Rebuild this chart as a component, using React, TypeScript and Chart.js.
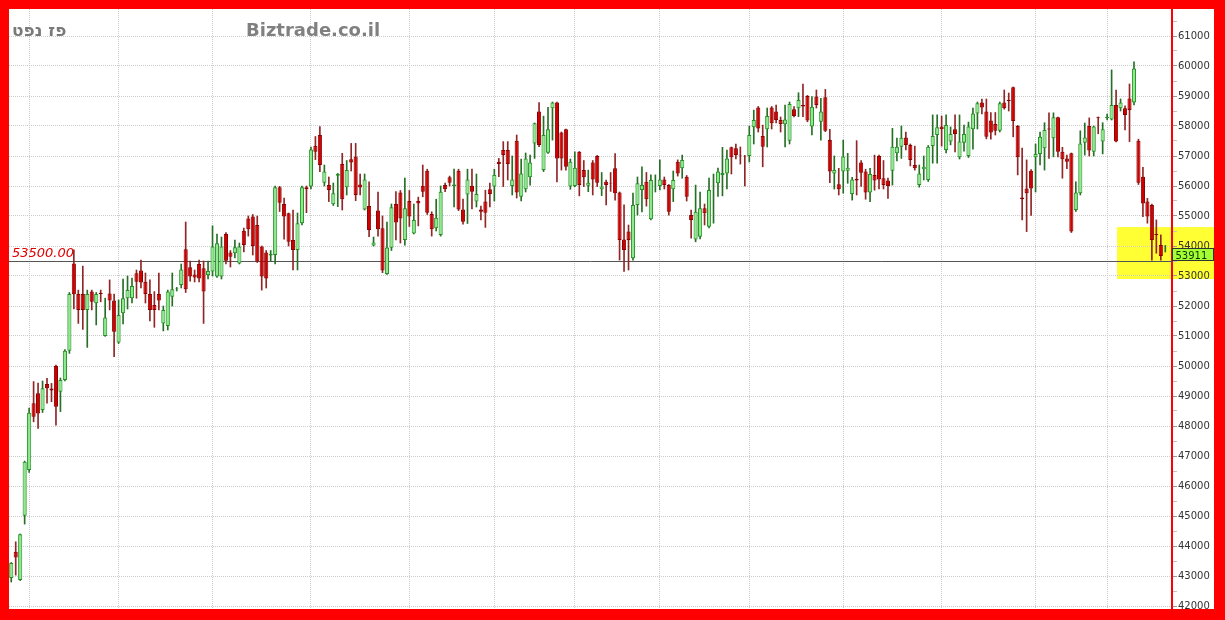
import React, { useEffect, useRef } from "react";
import { Chart, registerables } from "chart.js";

Chart.register(...registerables);

const opens = [
  42930, 43810, 42870, 45010, 46530, 48760, 49090, 48530, 49400, 49250,
  50000, 49140, 49530, 50510, 53420, 52400, 52400, 51870, 52480, 52090,
  52440, 51000, 52420, 52180, 50780, 51760, 52260, 52260, 53090, 53180,
  52810, 52400, 52030, 52400, 51420, 51330, 52310, 52560, 52700, 53890,
  53290, 53050, 53400, 53260, 53030, 53150, 52980, 52980, 54400, 53780,
  53760, 53420, 54510, 54920, 54980, 54700, 53980, 53780, 53680, 53700,
  55960, 55400, 55090, 54200, 53870, 54760, 55960, 55980, 57340, 57700,
  56110, 56030, 55390, 56340, 56730, 55960, 56890, 56980, 56050, 55220,
  55330, 54020, 55180, 54590, 53070, 53940, 55400, 55780, 54200, 55500,
  54420, 55500, 56010, 56510, 55070, 54590, 54370, 56030, 56290, 56000,
  56510, 55220, 55720, 56010, 55480, 55220, 55480, 55890, 55980, 56810,
  57200, 57200, 56000, 57510, 55640, 55890, 56290, 57420, 58480, 56530,
  57110, 58590, 58780, 57780, 57890, 55980, 56000, 57140, 56530, 56010,
  56780, 57000, 55890, 56140, 56100, 56590, 55780, 54220, 54480, 53590,
  55370, 55870, 56140, 54890, 55990, 56000, 56220, 56030, 55890, 56810,
  56590, 56310, 55030, 54220, 54310, 55260, 54640, 55990, 56090, 56370,
  56420, 57290, 57260, 57020, 57010, 57000, 57960, 58620, 57670, 57890,
  58620, 58480, 58200, 58060, 57510, 58560, 58590, 58700, 59000, 57980,
  58980, 58140, 58960, 57530, 56420, 56060, 56480, 56510, 55730, 56230,
  56780, 56480, 55780, 56370, 57000, 56260, 56180, 56510, 57090, 57310,
  57620, 57370, 56700, 56030, 56560, 56200, 57330, 57700, 57980, 57200,
  57480, 57890, 56960, 57440, 57000, 57890, 58420, 58780, 58480, 58180,
  58070, 57840, 58780, 58870, 59290, 58000, 55620, 55920, 56510, 56960,
  57070, 57260, 57920, 57590, 58290, 57140, 56920, 57090, 55200, 55760,
  57440, 58000, 57140, 58290, 57480, 58270, 58220, 58700, 58590, 58590,
  58920, 58780, 57510, 56310, 55480, 55370, 54400, 54030, 53900,
];

const highs = [
  43450, 44140, 44400, 46830, 48600, 49480, 49430, 49500, 49590, 49420,
  50030, 49600, 50550, 52450, 53870, 52530, 53330, 52530, 52530, 52450,
  52530, 52260, 52870, 52400, 52200, 52900, 53000, 52930, 53200, 53530,
  53100, 52870, 52480, 53100, 52000, 52530, 53100, 52620, 53400, 54800,
  53500, 53200, 53530, 53500, 53500, 54670, 54400, 54300, 54450, 53850,
  54200, 54100, 54600, 55000, 55050, 55000, 54000, 53850, 53850, 56000,
  55990, 55600, 55100, 55200, 55100, 56000, 56000, 57300, 57650, 57980,
  56700, 56300, 56100, 56420, 57090, 56850, 57420, 57420, 56400, 56400,
  56140, 54300, 55800, 55000, 54800, 55400, 55810, 55850, 56260, 55850,
  55400, 55630, 56700, 56560, 55140, 55560, 56000, 56100, 56330, 56560,
  56560, 55560, 56560, 56560, 56400, 55330, 55860, 56100, 56560, 56920,
  57480, 57480, 57000, 57700, 56900, 57100, 57030, 58100, 58780, 58330,
  58620, 58800, 58800, 57800, 57900, 56900, 57140, 57150, 56850, 56530,
  56850, 57020, 56450, 56200, 56450, 57080, 55800, 55370, 54700, 55760,
  56300, 56640, 56450, 56370, 56370, 56870, 56300, 56050, 56500, 56870,
  57030, 56350, 55200, 56030, 55800, 55400, 56260, 56400, 56600, 57290,
  57200, 57300, 57400, 57300, 57020, 58000, 58530, 58650, 58030, 58600,
  58650, 58700, 58300, 58700, 58800, 58650, 59110, 59400, 59020, 58980,
  59200, 58920, 59220, 57890, 57000, 56590, 57530, 57090, 56290, 57510,
  56850, 56560, 56590, 57030, 57030, 56850, 56260, 57920, 57600, 58000,
  57800, 57400, 57330, 56700, 57000, 57350, 58370, 58370, 58330, 58370,
  57970, 58370, 58370, 58030, 58130, 58600, 58800, 58900, 58900, 58450,
  58450, 58800, 59200, 59100, 59300, 58020, 57260, 56870, 56550, 57400,
  57800, 58110, 58440, 58440, 58300, 57290, 57030, 57100, 56140, 57840,
  58100, 58270, 58000, 58300, 58110, 58400, 59870, 59200, 58900, 58670,
  59400, 60140, 57560, 56620, 55590, 55400, 54870, 54370, 54020,
];

const lows = [
  42800, 43030, 42850, 44730, 46450, 48140, 47920, 48450, 48760, 48810,
  48030, 48480, 49500, 50420, 51900, 51420, 51220, 50620, 51870, 51370,
  52140, 50990, 51870, 50310, 50750, 51400, 51900, 52100, 52260, 52600,
  52100, 51500, 51290, 51870, 51170, 51200, 52000, 52500, 52600, 52450,
  52830, 52800, 52800, 51420, 52900, 53000, 52950, 52900, 53400, 53300,
  53600, 53400, 53800, 54330, 53700, 53450, 52530, 52600, 53500, 53400,
  55150, 54230, 54000, 53200, 53200, 54700, 55110, 55900, 56880, 56480,
  56000, 55480, 55350, 55310, 55200, 55700, 56500, 55510, 55700, 55200,
  54310, 54000, 54330, 53110, 53050, 53850, 54200, 54100, 54030, 54650,
  54400, 54670, 55640, 55050, 54330, 54500, 54330, 55810, 56000, 55300,
  55180, 54730, 54750, 55240, 55300, 54870, 54620, 55300, 55500, 56310,
  55980, 56200, 55700, 55600, 55500, 55800, 56030, 56920, 57310, 56480,
  57090, 57530, 56140, 56530, 56530, 55890, 55980, 55670, 55980, 55810,
  55700, 55980, 55680, 55370, 55820, 55530, 53530, 53150, 53200, 53530,
  55030, 55140, 55330, 54870, 55800, 55870, 55900, 55030, 55480, 56330,
  56260, 55500, 54260, 54140, 54240, 54700, 54600, 54760, 55650, 55670,
  55900, 56400, 56900, 56730, 56000, 56800, 57400, 57800, 56640, 57300,
  57900, 58100, 57800, 57300, 57400, 58300, 58310, 58310, 58140, 57700,
  58600, 57530, 57810, 56110, 55900, 55700, 55760, 56090, 55530, 55700,
  55990, 55560, 55480, 55860, 55900, 55900, 55590, 56030, 56840, 56920,
  57200, 56670, 56530, 55960, 56200, 56150, 56760, 56760, 57330, 57100,
  57370, 57140, 56900, 57160, 56950, 57230, 57900, 58400, 57570, 57560,
  57700, 57800, 58560, 58500, 57640, 56370, 54870, 54480, 55020, 55800,
  56700, 56530, 56920, 56970, 56970, 56260, 56580, 54450, 55150, 55700,
  57030, 57000, 57000, 57740, 57070, 58200, 58200, 57470, 58500, 57870,
  57480, 58700, 56050, 54980, 54760, 53530, 53760, 53530, 53800,
];

const closes = [
  43430, 43620, 44390, 46810, 48440, 48310, 48420, 49260, 49260, 49180,
  48640, 49530, 50510, 52400, 52390, 51870, 51870, 52400, 52140, 52400,
  52400, 51620, 52180, 51140, 51700, 52260, 52530, 52670, 52810, 52780,
  52400, 51870, 51870, 52180, 51870, 52480, 52560, 52580, 53220, 52560,
  52980, 52950, 52920, 52480, 53170, 53980, 54090, 53980, 53510, 53640,
  53960, 53980, 54030, 54560, 54000, 53480, 52980, 52920, 53730, 55960,
  55440, 54980, 54140, 53870, 54760, 55960, 55890, 57220, 57140, 56700,
  56480, 55870, 55760, 56400, 55560, 56530, 56780, 55700, 55950, 56220,
  54530, 54120, 54560, 53180, 53950, 55290, 54780, 54920, 55260, 54980,
  54870, 55420, 55810, 55110, 54560, 54940, 55810, 55890, 56110, 56050,
  55220, 54810, 56220, 55810, 55730, 55140, 55110, 55730, 56370, 56730,
  57030, 56730, 56220, 55780, 56420, 56920, 56780, 58090, 57370, 57700,
  57890, 58780, 56920, 56920, 56640, 56810, 56610, 56030, 56290, 56110,
  56220, 56110, 55980, 56030, 56080, 55760, 54200, 53870, 54200, 55370,
  56090, 56030, 55560, 56200, 56010, 56220, 56030, 55140, 56200, 56420,
  56870, 55640, 54870, 55140, 55260, 55090, 55870, 56010, 56480, 56430,
  56920, 56960, 57030, 57000, 56990, 57700, 58200, 57920, 57310, 58330,
  58090, 58200, 58070, 58220, 58730, 58330, 58870, 58650, 58180, 58640,
  58700, 58480, 57840, 56480, 56530, 55890, 56980, 56610, 56220, 56180,
  56440, 55780, 56400, 56180, 56220, 56030, 56000, 57310, 57310, 57610,
  57370, 56870, 56590, 56420, 56640, 57310, 57670, 57960, 57890, 58030,
  57730, 57730, 57480, 57730, 57980, 58420, 58760, 58620, 57640, 57780,
  57840, 58760, 58590, 58830, 58170, 56960, 55560, 55760, 55920, 57070,
  57640, 57870, 57880, 58290, 57140, 56890, 56810, 54480, 55780, 57420,
  57620, 57180, 57980, 58260, 57890, 58310, 58700, 57480, 58780, 58370,
  58530, 59920, 56110, 55420, 54980, 54200, 54370, 53670, 53911,
];

const yTickValues = [
  42000, 43000, 44000, 45000, 46000, 47000, 48000, 49000, 50000, 51000,
  52000, 53000, 54000, 55000, 56000, 57000, 58000, 59000, 60000, 61000,
];

// index of the session where each month starts (vertical grid lines)
const monthStartIdx = [4, 24, 45, 67, 89, 108, 126, 145, 165, 186, 208, 229, 245];

const supportLevel = 53500;
const highlightFromIdx = 247.2;
const highlightHigh = 54630;
const highlightLow = 52900;
const stockName = "פז נפט";
const siteName = "Biztrade.co.il";

const categories = [...opens.map((_, i) => String(i + 1)), ""];

export default function App() {
  const canvasRef = useRef<HTMLCanvasElement | null>(null);

  useEffect(() => {
    const canvas = canvasRef.current;
    if (!canvas) return;
    const up = closes.map((c, i) => c >= opens[i]);
    const bodyData: any[] = opens.map((o, i) => [o, closes[i]]);
    bodyData.push(null);
    const wickData: any[] = lows.map((l, i) => [l, highs[i]]);
    wickData.push(null);

    // all tick positions: labelled thousands plus unlabelled half-steps
    const allTicks: number[] = [];
    yTickValues.forEach((v) => {
      allTicks.push(v);
      allTicks.push(v + 500);
    });

    const overlay = {
      id: "overlay",
      beforeDraw(chart: any) {
        const { ctx, scales } = chart;
        const x = scales.x;
        const y = scales.y;
        const left = x.getPixelForValue(highlightFromIdx);
        const top = y.getPixelForValue(highlightHigh);
        const bottom = y.getPixelForValue(highlightLow);
        ctx.save();
        ctx.fillStyle = "#ffff33";
        ctx.fillRect(left, top, chart.width - left, bottom - top);
        ctx.restore();
      },
      beforeDatasetsDraw(chart: any) {
        const { ctx, chartArea, scales } = chart;
        const y = scales.y;
        const yPix = Math.round(y.getPixelForValue(supportLevel)) + 0.5;
        ctx.save();
        ctx.strokeStyle = "#555555";
        ctx.lineWidth = 1;
        ctx.beginPath();
        ctx.moveTo(chartArea.left, yPix);
        ctx.lineTo(chartArea.right, yPix);
        ctx.stroke();
        ctx.font = "italic 13px 'DejaVu Sans', sans-serif";
        ctx.fillStyle = "#e00000";
        ctx.textBaseline = "alphabetic";
        ctx.textAlign = "left";
        ctx.fillText(supportLevel.toFixed(2), chartArea.left + 3, yPix - 4.5);
        ctx.restore();
      },
      afterDraw(chart: any) {
        const { ctx, chartArea, scales } = chart;
        const y = scales.y;
        const last = closes[closes.length - 1];
        const top = Math.round(y.getPixelForValue(last)) - 0.5;
        const left = chartArea.right + 0.5;
        const w = chart.width - chartArea.right - 1;
        ctx.save();
        ctx.fillStyle = "#a4ff33";
        ctx.fillRect(left, top, w, 12);
        ctx.strokeStyle = "#333333";
        ctx.lineWidth = 1;
        ctx.strokeRect(left, top, w, 12);
        ctx.font = "10px 'DejaVu Sans', sans-serif";
        ctx.fillStyle = "#0d3300";
        ctx.textBaseline = "alphabetic";
        ctx.textAlign = "left";
        ctx.fillText(String(last), left + 3, top + 10);
        ctx.restore();
      },
    };

    const chart = new Chart(canvas, {
      type: "bar",
      data: {
        labels: categories,
        datasets: [
          {
            label: "body",
            data: bodyData,
            backgroundColor: up.map((u) => (u ? "#8fea8f" : "#d00000")),
            borderColor: up.map((u) => (u ? "#229022" : "#8a0000")),
            borderWidth: 1,
            borderSkipped: false,
            grouped: false,
            barPercentage: 0.92,
            categoryPercentage: 1,
            order: 0,
          } as any,
          {
            label: "wick",
            data: wickData,
            backgroundColor: up.map((u) => (u ? "#267026" : "#902626")),
            borderWidth: 0,
            grouped: false,
            barThickness: 1,
            order: 1,
          } as any,
        ],
      },
      options: {
        animation: false,
        responsive: false,
        maintainAspectRatio: false,
        events: [],
        layout: { padding: 0 },
        plugins: {
          legend: { display: false },
          tooltip: { enabled: false },
        },
        scales: {
          x: {
            type: "category",
            offset: true,
            grid: {
              offset: false,
              drawTicks: false,
              color: (ctx: any) =>
                monthStartIdx.includes(ctx.index) ? "#cccccc" : "rgba(0,0,0,0)",
              lineWidth: 1,
            },
            border: { display: false, dash: [1, 1] },
            ticks: { display: false, autoSkip: false },
          },
          y: {
            position: "right",
            min: 41900,
            max: 61900,
            afterBuildTicks: (s: any) => {
              s.ticks = allTicks.map((v) => ({ value: v }));
            },
            afterFit: (s: any) => {
              s.width = 42;
              s.paddingTop = 0;
              s.paddingBottom = 0;
            },
            grid: {
              color: (ctx: any) =>
                ctx.tick && ctx.tick.value % 1000 === 0 ? "#cccccc" : "rgba(0,0,0,0)",
              drawTicks: true,
              tickLength: 5,
              tickColor: (ctx: any) =>
                ctx.tick && ctx.tick.value % 1000 === 0 ? "#999999" : "#c4c4c4",
            },
            border: { display: true, color: "#ff0000", width: 2, dash: [1, 1] },
            ticks: {
              font: { family: "'DejaVu Sans', sans-serif", size: 10 },
              color: "#333333",
              padding: 1,
              autoSkip: false,
              callback: (v: any) => (Number(v) % 1000 === 0 ? String(v) : ""),
            },
          },
        },
      } as any,
      plugins: [overlay],
    });

    return () => chart.destroy();
  }, []);

  return (
    <div
      style={{
        position: "fixed",
        left: 0,
        top: 0,
        width: 1225,
        height: 620,
        background: "#ff0000",
        overflow: "hidden",
      }}
    >
      <div
        style={{
          position: "absolute",
          left: 9,
          top: 9,
          width: 1205,
          height: 600,
          background: "#ffffff",
        }}
      >
        <canvas ref={canvasRef} width={1205} height={600} style={{ display: "block" }} />
        <div
          style={{
            position: "absolute",
            left: 3,
            top: 13,
            font: "bold 17px 'DejaVu Sans', sans-serif",
            lineHeight: "17px",
            color: "#7a7a7a",
            whiteSpace: "nowrap",
          }}
        >
          {stockName}
        </div>
        <div
          style={{
            position: "absolute",
            left: 237,
            top: 12,
            font: "bold 18px 'DejaVu Sans', sans-serif",
            lineHeight: "18px",
            color: "#808080",
            whiteSpace: "nowrap",
          }}
        >
          {siteName}
        </div>
      </div>
    </div>
  );
}
